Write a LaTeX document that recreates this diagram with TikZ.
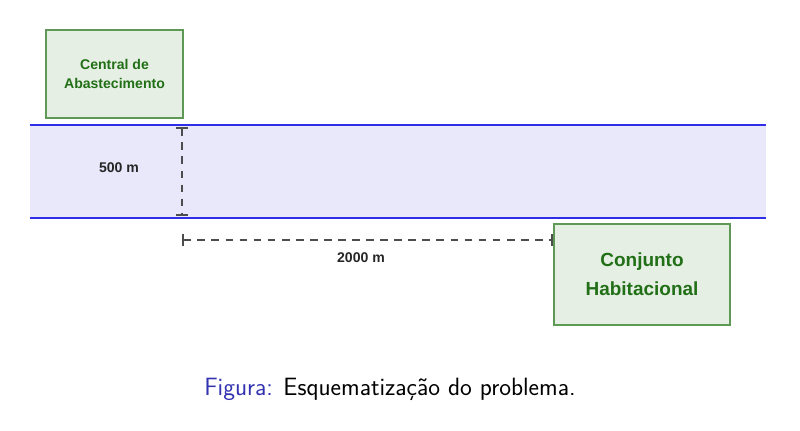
\documentclass[tikz,border=0pt]{standalone}
\usepackage{fontspec}
\newfontfamily\labelfont{Liberation Sans}
\usepackage{xcolor}
\definecolor{bboxfill}{HTML}{E6EFE4}
\definecolor{bboxline}{HTML}{5E9A55}
\definecolor{ggreen}{HTML}{216F16}
\definecolor{bblue}{HTML}{2E2EE8}
\definecolor{rriver}{HTML}{E8E8FA}
\definecolor{ggray}{HTML}{4D4D4D}
\definecolor{sstruct}{rgb}{0.2,0.2,0.7}
\usetikzlibrary{positioning}

\begin{document}
\begin{tikzpicture}[
    	x=0.025cm, y=-0.025cm,
    	place/.style={draw=bboxline, fill=bboxfill, line width=1pt, align=center,
    	    text=ggreen, font=\labelfont\bfseries, inner sep=0pt},
    	bank/.style={bblue, line width=1.4pt},
    	dim/.style={|-|, ggray, line width=1.3pt, dash pattern=on 5.5pt off 4.5pt},
    	dimtext/.style={font=\labelfont\bfseries\fontsize{10}{12}\selectfont, text=black!85},
    ]
    \path[use as bounding box] (0,0) rectangle (800,431);
    \fill[rriver] (30,125) rectangle (766,218);
    \draw[bank] (30,125) coordinate (nw) -- (766,125) coordinate (ne);
    \draw[bank] (30,218) coordinate (sw) -- (766,218) coordinate (se);
    \node[place, minimum width=3.425cm, minimum height=2.2cm,
        font=\labelfont\bfseries\fontsize{10}{14}\selectfont] (central) at (114.5,74)
        {Central de\\Abastecimento};
    \node[place, minimum width=4.4cm, minimum height=2.525cm,
        font=\labelfont\bfseries\fontsize{13.5}{20.5}\selectfont] (conjunto) at (642,274.5)
        {Conjunto\\Habitacional};
    \coordinate (vtop) at (182,127);
    \coordinate (vbot) at (182,216);
    \coordinate (hleft) at (182,240);
    \coordinate (hright) at (conjunto.west |- hleft);
    \draw[dim] (vtop) -- (vbot);
    \draw[dim] (hleft) -- (hright);
    \node[dimtext] (largura) at (119,168) {500 m};
    \node[dimtext] (distancia) at (361,258) {2000 m};
    \node[font=\sffamily\fontsize{17.8}{21}\selectfont] (legenda) at (390,389)
        {\textcolor{sstruct}{Figura:} Esquematização do problema.};
    \end{tikzpicture}
\end{document}
